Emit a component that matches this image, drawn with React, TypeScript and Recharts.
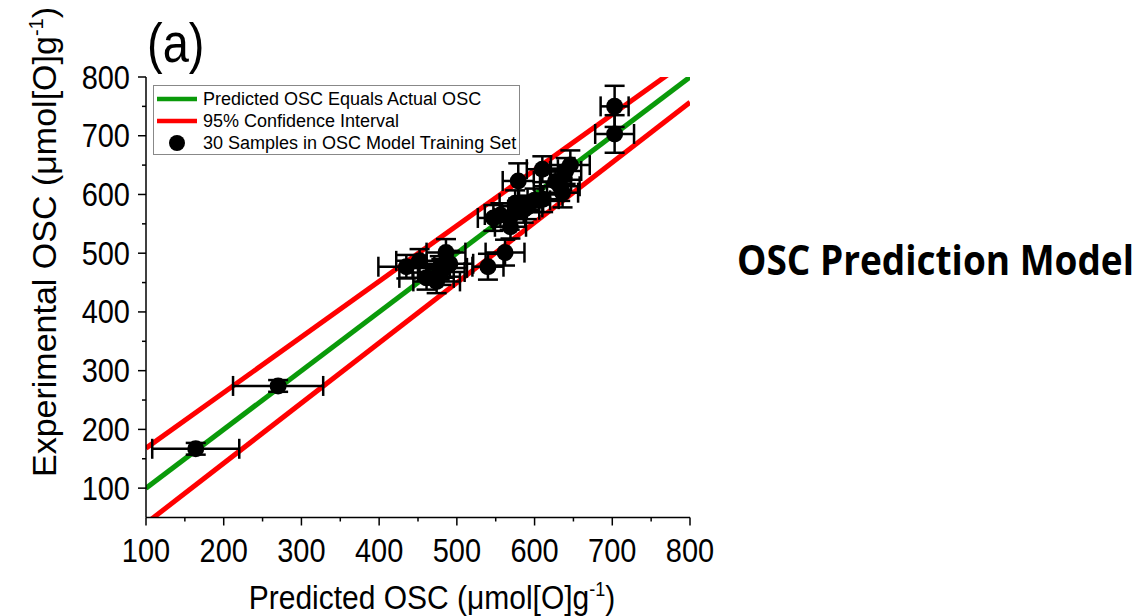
import React from 'react';
import { ComposedChart, Line, Scatter, XAxis, YAxis, ErrorBar } from 'recharts';

const xTicks = [100, 150, 200, 250, 300, 350, 400, 450, 500, 550, 600, 650, 700, 750, 800];
const yTicks = [100, 150, 200, 250, 300, 350, 400, 450, 500, 550, 600, 650, 700, 750, 800];

const predicted = [164, 270, 435, 452, 461, 474, 480, 486, 491, 478, 540, 562, 547, 568, 569, 575, 586, 579, 610, 646, 633, 636, 611, 600, 590, 556, 640, 627, 703, 703];
const experimental = [167, 274, 477, 487, 458, 452, 468, 501, 482, 475, 477, 501, 560, 560, 545, 585, 574, 623, 643, 650, 614, 603, 592, 590, 578, 565, 640, 622, 750, 703];
const predictedErr = [56, 58, 36, 30, 35, 30, 30, 25, 30, 35, 20, 25, 20, 20, 20, 20, 20, 20, 20, 25, 25, 20, 20, 20, 20, 20, 20, 20, 18, 25];
const experimentalErr = [10, 10, 20, 20, 20, 20, 22, 23, 22, 20, 22, 22, 22, 20, 20, 22, 22, 30, 22, 25, 25, 25, 22, 20, 20, 20, 22, 22, 35, 32];

const idealX = [100, 800];
const idealY = [100, 800];
const upperX = [100, 800];
const upperY = [168, 831];
const lowerX = [100, 800];
const lowerY = [40, 757];

const legendLabels = ['Predicted OSC Equals Actual OSC', '95% Confidence Interval', '30 Samples in OSC Model Training Set'];

const samples = predicted.map((p, i) => ({ x: p, y: experimental[i], ex: predictedErr[i], ey: experimentalErr[i] }));
const idealData = idealX.map((x, i) => ({ x, y: idealY[i] }));
const upperData = upperX.map((x, i) => ({ x, y: upperY[i] }));
const lowerData = lowerX.map((x, i) => ({ x, y: lowerY[i] }));

const FONT = '"Liberation Sans", Arial, sans-serif';
const GREEN = '#0a9a0a';
const RED = '#ff0000';

const XTick = (props: any) => {
  const { x, y, payload } = props;
  const major = payload.value % 100 === 0;
  return (
    <g>
      <line x1={x} y1={y} x2={x} y2={y + (major ? 8 : 4)} stroke="#000" strokeWidth={1.5} />
      {major && (
        <text
          transform={`translate(${x},${y + 44}) scale(1,1.12)`}
          textAnchor="middle"
          fontSize={29}
          fontFamily={FONT}
          fill="#000"
        >
          {payload.value}
        </text>
      )}
    </g>
  );
};

const YTick = (props: any) => {
  const { x, y, payload } = props;
  const major = payload.value % 100 === 0;
  return (
    <g>
      <line x1={x} y1={y} x2={x - (major ? 8 : 4)} y2={y} stroke="#000" strokeWidth={1.5} />
      {major && (
        <text
          transform={`translate(${x - 16},${y + 11.5}) scale(1,1.12)`}
          textAnchor="end"
          fontSize={29}
          fontFamily={FONT}
          fill="#000"
        >
          {payload.value}
        </text>
      )}
    </g>
  );
};

const Dot = (props: any) => {
  const { cx, cy } = props;
  return <circle cx={cx} cy={cy} r={8.5} fill="#000" />;
};

export default function App() {
  return (
    <div style={{ position: 'absolute', left: 0, top: 0, width: 1139, height: 616, background: '#fff' }}>
      <ComposedChart width={1139} height={616} margin={{ top: 77, right: 449, bottom: 0, left: 0 }}>
        <XAxis
          xAxisId="main"
          type="number"
          dataKey="x"
          domain={[100, 800]}
          ticks={xTicks}
          interval={0}
          height={98.5}
          tickSize={0}
          tickMargin={0}
          tickLine={false}
          tick={<XTick />}
          axisLine={{ stroke: '#000', strokeWidth: 1.5 }}
          allowDataOverflow
        />
        <XAxis
          xAxisId="top"
          orientation="top"
          type="number"
          domain={[100, 800]}
          height={0}
          tick={false}
          tickLine={false}
          axisLine={{ stroke: '#000', strokeWidth: 1.5 }}
        />
        <YAxis
          yAxisId="main"
          type="number"
          dataKey="y"
          domain={[50, 800]}
          ticks={yTicks}
          interval={0}
          width={146}
          tickSize={0}
          tickMargin={0}
          tickLine={false}
          tick={<YTick />}
          axisLine={{ stroke: '#000', strokeWidth: 1.5 }}
          allowDataOverflow
        />
        <YAxis
          yAxisId="right"
          orientation="right"
          type="number"
          domain={[50, 800]}
          width={0}
          tick={false}
          tickLine={false}
          axisLine={{ stroke: '#000', strokeWidth: 1.5 }}
        />
        <Line xAxisId="main" yAxisId="main" data={upperData} dataKey="y" stroke={RED} strokeWidth={5} dot={false} activeDot={false} isAnimationActive={false} />
        <Line xAxisId="main" yAxisId="main" data={lowerData} dataKey="y" stroke={RED} strokeWidth={5} dot={false} activeDot={false} isAnimationActive={false} />
        <Line xAxisId="main" yAxisId="main" data={idealData} dataKey="y" stroke={GREEN} strokeWidth={5} dot={false} activeDot={false} isAnimationActive={false} />
        <Scatter xAxisId="main" yAxisId="main" data={samples} dataKey="y" fill="#000" shape={<Dot />} isAnimationActive={false}>
          <ErrorBar dataKey="ex" direction="x" stroke="#000" strokeWidth={2.5} width={10} isAnimationActive={false} />
          <ErrorBar dataKey="ey" direction="y" stroke="#000" strokeWidth={2.5} width={10} isAnimationActive={false} />
        </Scatter>
      </ComposedChart>

      {/* legend */}
      <div
        style={{
          position: 'absolute',
          left: 153,
          top: 85,
          width: 367,
          height: 70,
          boxSizing: 'border-box',
          border: '1px solid #888',
          background: '#fff',
          padding: '2px 0 0 0',
          fontFamily: FONT,
          fontSize: 18,
          lineHeight: '22px',
          color: '#000',
        }}
      >
        {legendLabels.map((label, i) => (
          <div key={label} style={{ display: 'flex', alignItems: 'center', whiteSpace: 'nowrap', height: 22 }}>
            <svg width={49} height={20} style={{ flex: 'none' }}>
              {i < 2 ? (
                <line x1={3} y1={10} x2={43} y2={10} stroke={i === 0 ? GREEN : RED} strokeWidth={4.5} />
              ) : (
                <circle cx={23} cy={10} r={8} fill="#000" />
              )}
            </svg>
            <span>{label}</span>
          </div>
        ))}
      </div>

      <svg width={1139} height={616} style={{ position: 'absolute', left: 0, top: 0, pointerEvents: 'none' }}>
        <text transform="translate(147,62) scale(1,1.2)" fontSize={47} fontFamily={FONT} fill="#000">
          (a)
        </text>
        <text transform="translate(432,609) scale(1,1.1)" textAnchor="middle" fontSize={30} fontFamily={FONT} fill="#000">
          Predicted OSC (μmol[O]g
          <tspan dy={-12} fontSize={18}>-1</tspan>
          <tspan dy={12}>)</tspan>
        </text>
        <text transform="translate(56,242) rotate(-90)" textAnchor="middle" fontSize={34} fontFamily={FONT} fill="#000">
          Experimental OSC (μmol[O]g
          <tspan dy={-13} fontSize={20}>-1</tspan>
          <tspan dy={13}>)</tspan>
        </text>
        <text
          transform="translate(737,275) scale(1,1.1)"
          fontSize={37}
          fontWeight={700}
          fontFamily='"Open Sans", "Noto Sans", sans-serif'
          fill="#000"
        >
          OSC Prediction Model
        </text>
      </svg>
    </div>
  );
}
